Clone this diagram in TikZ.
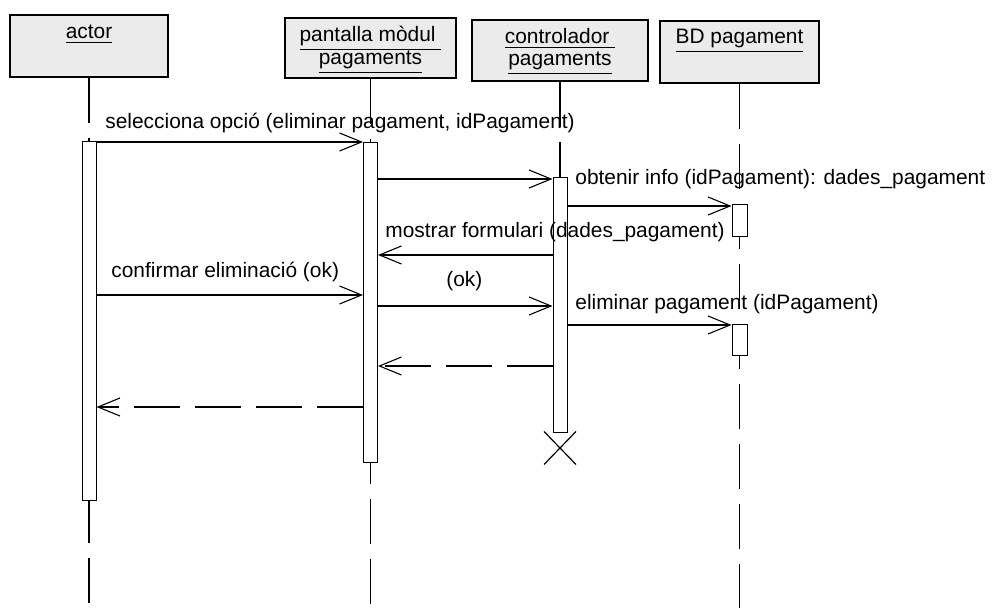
\documentclass[tikz,border=0pt]{standalone}
\usepackage{fontspec}
\setmainfont{Liberation Sans}
\usetikzlibrary{arrows.meta, fit, calc}

\begin{document}
\begin{tikzpicture}[x=0.5pt, y=-0.5pt,
        every node/.style={font=\fontsize{10.45}{12.5}\selectfont, inner sep=0pt},
        objbox/.style={draw, line width=0.7pt, fill=black!8, inner sep=0pt},
        actbox/.style={draw, line width=0.5pt, fill=white, inner sep=0pt},
        lifeline/.style={line width=0.6pt, dash pattern=on 22.5pt off 7.5pt},
        msg/.style={line width=0.55pt, -{Straight Barb[length=11pt, width=9pt]}},
        reply/.style={msg, dash pattern=on 23pt off 7.5pt}]
        \useasboundingbox (0,0) rectangle (997,608);

        % --- Objects ---
        \node[objbox, fit={(10,15) (168,77)}] (actor) {};
        \node[anchor=base] (actorname) at (89,39) {\underline{actor}};
        \node[objbox, fit={(285,18) (456,78)}] (pantalla) {};
        \node[anchor=base] (pantallaname) at (370.5,42) {\underline{pantalla mòdul~}};
        \node[anchor=base] (pantallaname2) at (370.5,65) {\underline{pagaments}};
        \node[objbox, fit={(472,20) (648,81)}] (ctrl) {};
        \node[anchor=base] (ctrlname) at (560,44) {\underline{controlador~}};
        \node[anchor=base] (ctrlname2) at (560,66) {\underline{pagaments}};
        \node[objbox, fit={(660,21) (819,83)}] (bd) {};
        \node[anchor=base] (bdname) at (739.5,44) {\underline{BD pagament}};

        % --- Lifelines ---
        \draw[lifeline] (actor.south) -- (actor.south |- 0,608);
        \draw[lifeline] (pantalla.south) -- (pantalla.south |- 0,608);
        \draw[lifeline] (ctrl.south) -- (ctrl.south |- 0,180);
        \draw[lifeline] (bd.south) -- (bd.south |- 0,608);

        % --- Activations ---
        \node[actbox, fit={(82,142) (96,501)}] (actA) {};
        \node[actbox, fit={(363.5,143) (377.5,463)}] (actP) {};
        \node[actbox, fit={(553,178) (567,433)}] (actC) {};
        \node[actbox, fit={(732,205) (747,237)}] (actB1) {};
        \node[actbox, fit={(732,325) (747,356)}] (actB2) {};

        % --- Message rows ---
        \foreach \n/\y in {m1/142, m2/179, m3/206, m4/255, m5/295, m6/306, m7/325, m8/366, m9/407}
            \coordinate (\n) at (0,\y);

        % --- Messages ---
        \draw[msg] (actA.east |- m1) -- (actP.west |- m1);
        \node[anchor=base west] (l1) at (105,129) {selecciona opció (eliminar pagament, idPagament)};

        \draw[msg] (actP.east |- m2) -- (actC.west |- m2);

        \draw[msg] (actC.east |- m3) -- (actB1.west |- m3);
        \node[anchor=base west] (l3) at (575,185) {obtenir info (idPagament): dades\_pagament};

        \draw[msg] (actC.west |- m4) -- (actP.east |- m4);
        \node[anchor=base west] (l4) at (385,238) {mostrar formulari (dades\_pagament)};

        \draw[msg] (actA.east |- m5) -- (actP.west |- m5);
        \node[anchor=base west] (l5) at (111,278) {confirmar eliminació (ok)};

        \draw[msg] (actP.east |- m6) -- (actC.west |- m6);
        \node[anchor=base west] (l6) at (446,287) {(ok)};

        \draw[msg] (actC.east |- m7) -- (actB2.west |- m7);
        \node[anchor=base west] (l7) at (575,310) {eliminar pagament (idPagament)};

        % --- Returns ---
        \draw[reply] (actC.west |- m8) -- (actP.east |- m8);
        \draw[reply] (actP.west |- m9) -- (actA.east |- m9);

        % --- Destroy ---
        \draw[line width=0.6pt] ($(actC.south)+(-16,-2)$) -- ($(actC.south)+(16,31)$);
        \draw[line width=0.6pt] ($(actC.south)+(16,-2)$) -- ($(actC.south)+(-16,31)$);
    \end{tikzpicture}
\end{document}
